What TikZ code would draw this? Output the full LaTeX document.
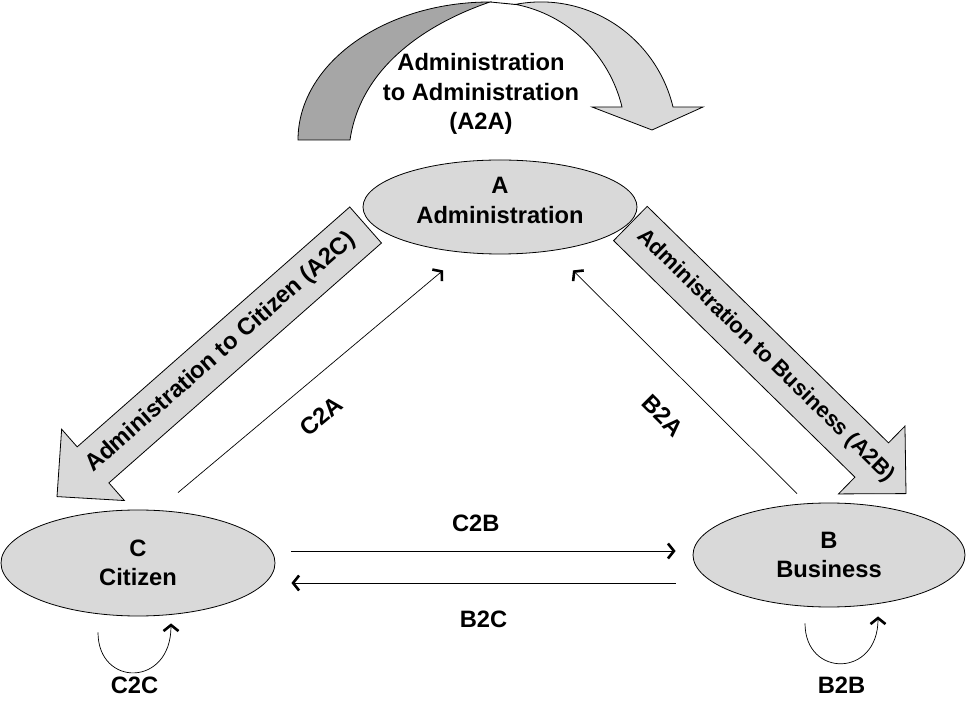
\documentclass[tikz,border=0pt]{standalone}
\usepackage{fontspec}
\setmainfont{Liberation Sans}
\usetikzlibrary{arrows.meta,calc,shapes.geometric}
\definecolor{partyfill}{RGB}{217,217,217}
\definecolor{backfill}{RGB}{166,166,166}

\newcommand{\fatarrow}[2]{%
  \coordinate (hb) at ($(#2)!48pt!(#1)$);
  \draw[fat] ($(#1)!24pt!90:(#2)$) -- ($(hb)!24pt!90:(#2)$) -- ($(hb)!47.5pt!90:(#2)$) -- (#2)
    -- ($(hb)!47.5pt!-90:(#2)$) -- ($(hb)!24pt!-90:(#2)$) -- ($(#1)!24pt!-90:(#2)$) -- cycle;}

\begin{document}
\begin{tikzpicture}[x=1pt,y=1pt,font=\bfseries\fontsize{23.7}{29.5}\selectfont,
   party/.style={ellipse,draw,line width=.8pt,fill=partyfill,align=center,inner sep=0pt},
   fat/.style={draw,line width=.8pt,fill=partyfill},
   flow/.style={line width=.7pt,-{Straight Barb[length=6pt,width=15pt,line width=2.6pt]}},
   tag/.style={inner sep=0pt}]
  \useasboundingbox (0,0) rectangle (968,701);

  \node[party,minimum width=274pt,minimum height=94pt,text depth=13pt] (A) at (500,494) {A\\Administration};
  \node[party,minimum width=274pt,minimum height=106pt] (C) at (138,138) {C\\Citizen};
  \node[party,minimum width=272pt,minimum height=104pt] (B) at (829,146) {B\\Business};

  % A2A
  \draw[line width=.8pt,fill=backfill] (298,561) arc[start angle=180,end angle=90,x radius=192,y radius=138]
    .. controls (420,675) and (360,630) .. (350,561) -- cycle;
  \draw[fat] (490,699) -- (515,696.5) arc[start angle=101,end angle=13.8,x radius=136,y radius=138]
    -- (703,594) -- (652,571) -- (592,594) -- (622,594)
    arc[start angle=13.8,end angle=79,x radius=136,y radius=138] -- cycle;
  \node[align=center] (a2a) at (481,607) {Administration\\to Administration\\(A2A)};

  % A2C and A2B
  \coordinate (a2c tail) at ([shift={(3,-18)}]A.west);
  \coordinate (a2c tip) at ([shift={(-81,13)}]C.north);
  \coordinate (a2b tail) at ([shift={(-7,-16.5)}]A.east);
  \coordinate (a2b tip) at ([shift={(77,9)}]B.north);
  \fatarrow{a2c tail}{a2c tip}
  \fatarrow{a2b tail}{a2b tip}
  \path (a2c tip) -- node[sloped,pos=.53] {Administration to Citizen (A2C)} (a2c tail);
  \path (a2b tail) -- node[sloped,pos=.49,font=\bfseries\fontsize{22}{26}\selectfont] {Administration to Business (A2B)} (a2b tip);

  \path[flow]
    ([shift={(40,17)}]C.north) edge node[tag,sloped,below=25pt,pos=.46] {C2A} ([shift={(-57,-16)}]A.south)
    ([shift={(-32,9)}]B.north) edge node[tag,sloped,below=31pt,pos=.475] {B2A} ([shift={(73,-16)}]A.south)
    ([shift={(16,12)}]C.east) edge node[tag,above=19pt,pos=.48] {C2B} ([shift={(-17,4)}]B.west)
    ([shift={(-17,-28)}]B.west) edge node[tag,below=28pt,pos=.5] {B2C} ([shift={(16,-20)}]C.east);

  \draw[flow] ([shift={(-40,-16)}]C.south) .. controls +(0,-55) and +(0,-64) .. ([shift={(33,-7)}]C.south)
    node[tag,below=4pt,pos=.5] {C2C};
  \draw[flow] ([shift={(-24,-16)}]B.south) .. controls +(0,-54.5) and +(0,-61.5) .. ([shift={(49,-9)}]B.south)
    node[tag,below=13pt,pos=.5] {B2B};
\end{tikzpicture}
\end{document}
